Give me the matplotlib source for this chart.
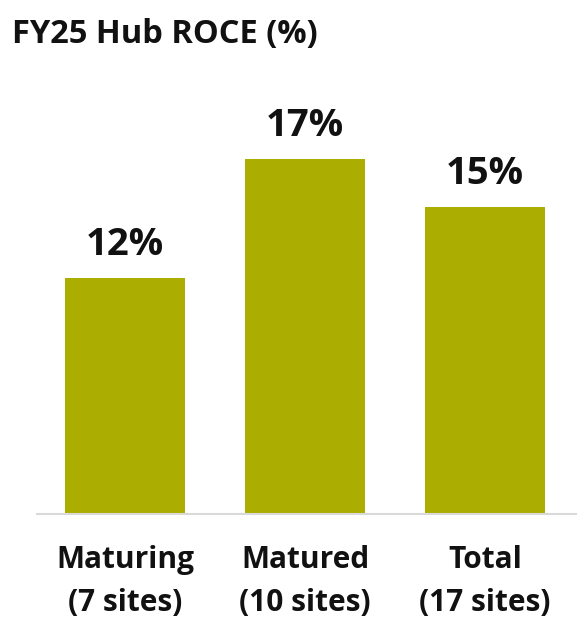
import matplotlib
matplotlib.use("Agg")
import matplotlib.pyplot as plt

categories = ["Maturing\n(7 sites)", "Matured\n(10 sites)", "Total\n(17 sites)"]
values = [12, 17, 15]
labels = ["12%", "17%", "15%"]

plt.rcParams['font.family'] = ['Open Sans', 'DejaVu Sans']
W, H = 577, 628
fig = plt.figure(figsize=(W/100, H/100), dpi=100)
base_y = 514
top_y = 100
ax = fig.add_axes([37/W, 1 - base_y/H, (577-37)/W, (base_y-top_y)/H])

color = "#ABAE00"
x = list(range(len(values)))
ax.bar(x, values, width=0.667, color=color, zorder=2)
ymin = 2.08
ax.set_ylim(ymin, ymin + (base_y - top_y)/23.8)
ax.set_xlim(-0.489, -0.489 + (577-37)/180)

for xi, v, lab in zip(x, values, labels):
    ax.annotate(lab, (xi, v), xytext=(0, 10), textcoords='offset points',
                ha='center', va='bottom', fontsize=27.5, fontweight='bold', color='#111111')

for s in ['top', 'right', 'left']:
    ax.spines[s].set_visible(False)
ax.spines['bottom'].set_color('#d9d9d9')
ax.spines['bottom'].set_linewidth(1.5)
ax.set_yticks([])
ax.set_xticks(x)
ax.set_xticklabels(categories, fontsize=21.5, fontweight='bold', color='#111111', linespacing=1.6)
ax.tick_params(axis='x', length=0, pad=22)

fig.text(12/W, 1 - 35/H, "FY25 Hub ROCE (%)", fontsize=23.5, fontweight='bold',
         color='#111111', ha='left', va='center')

fig.savefig("out.png", dpi=100)
